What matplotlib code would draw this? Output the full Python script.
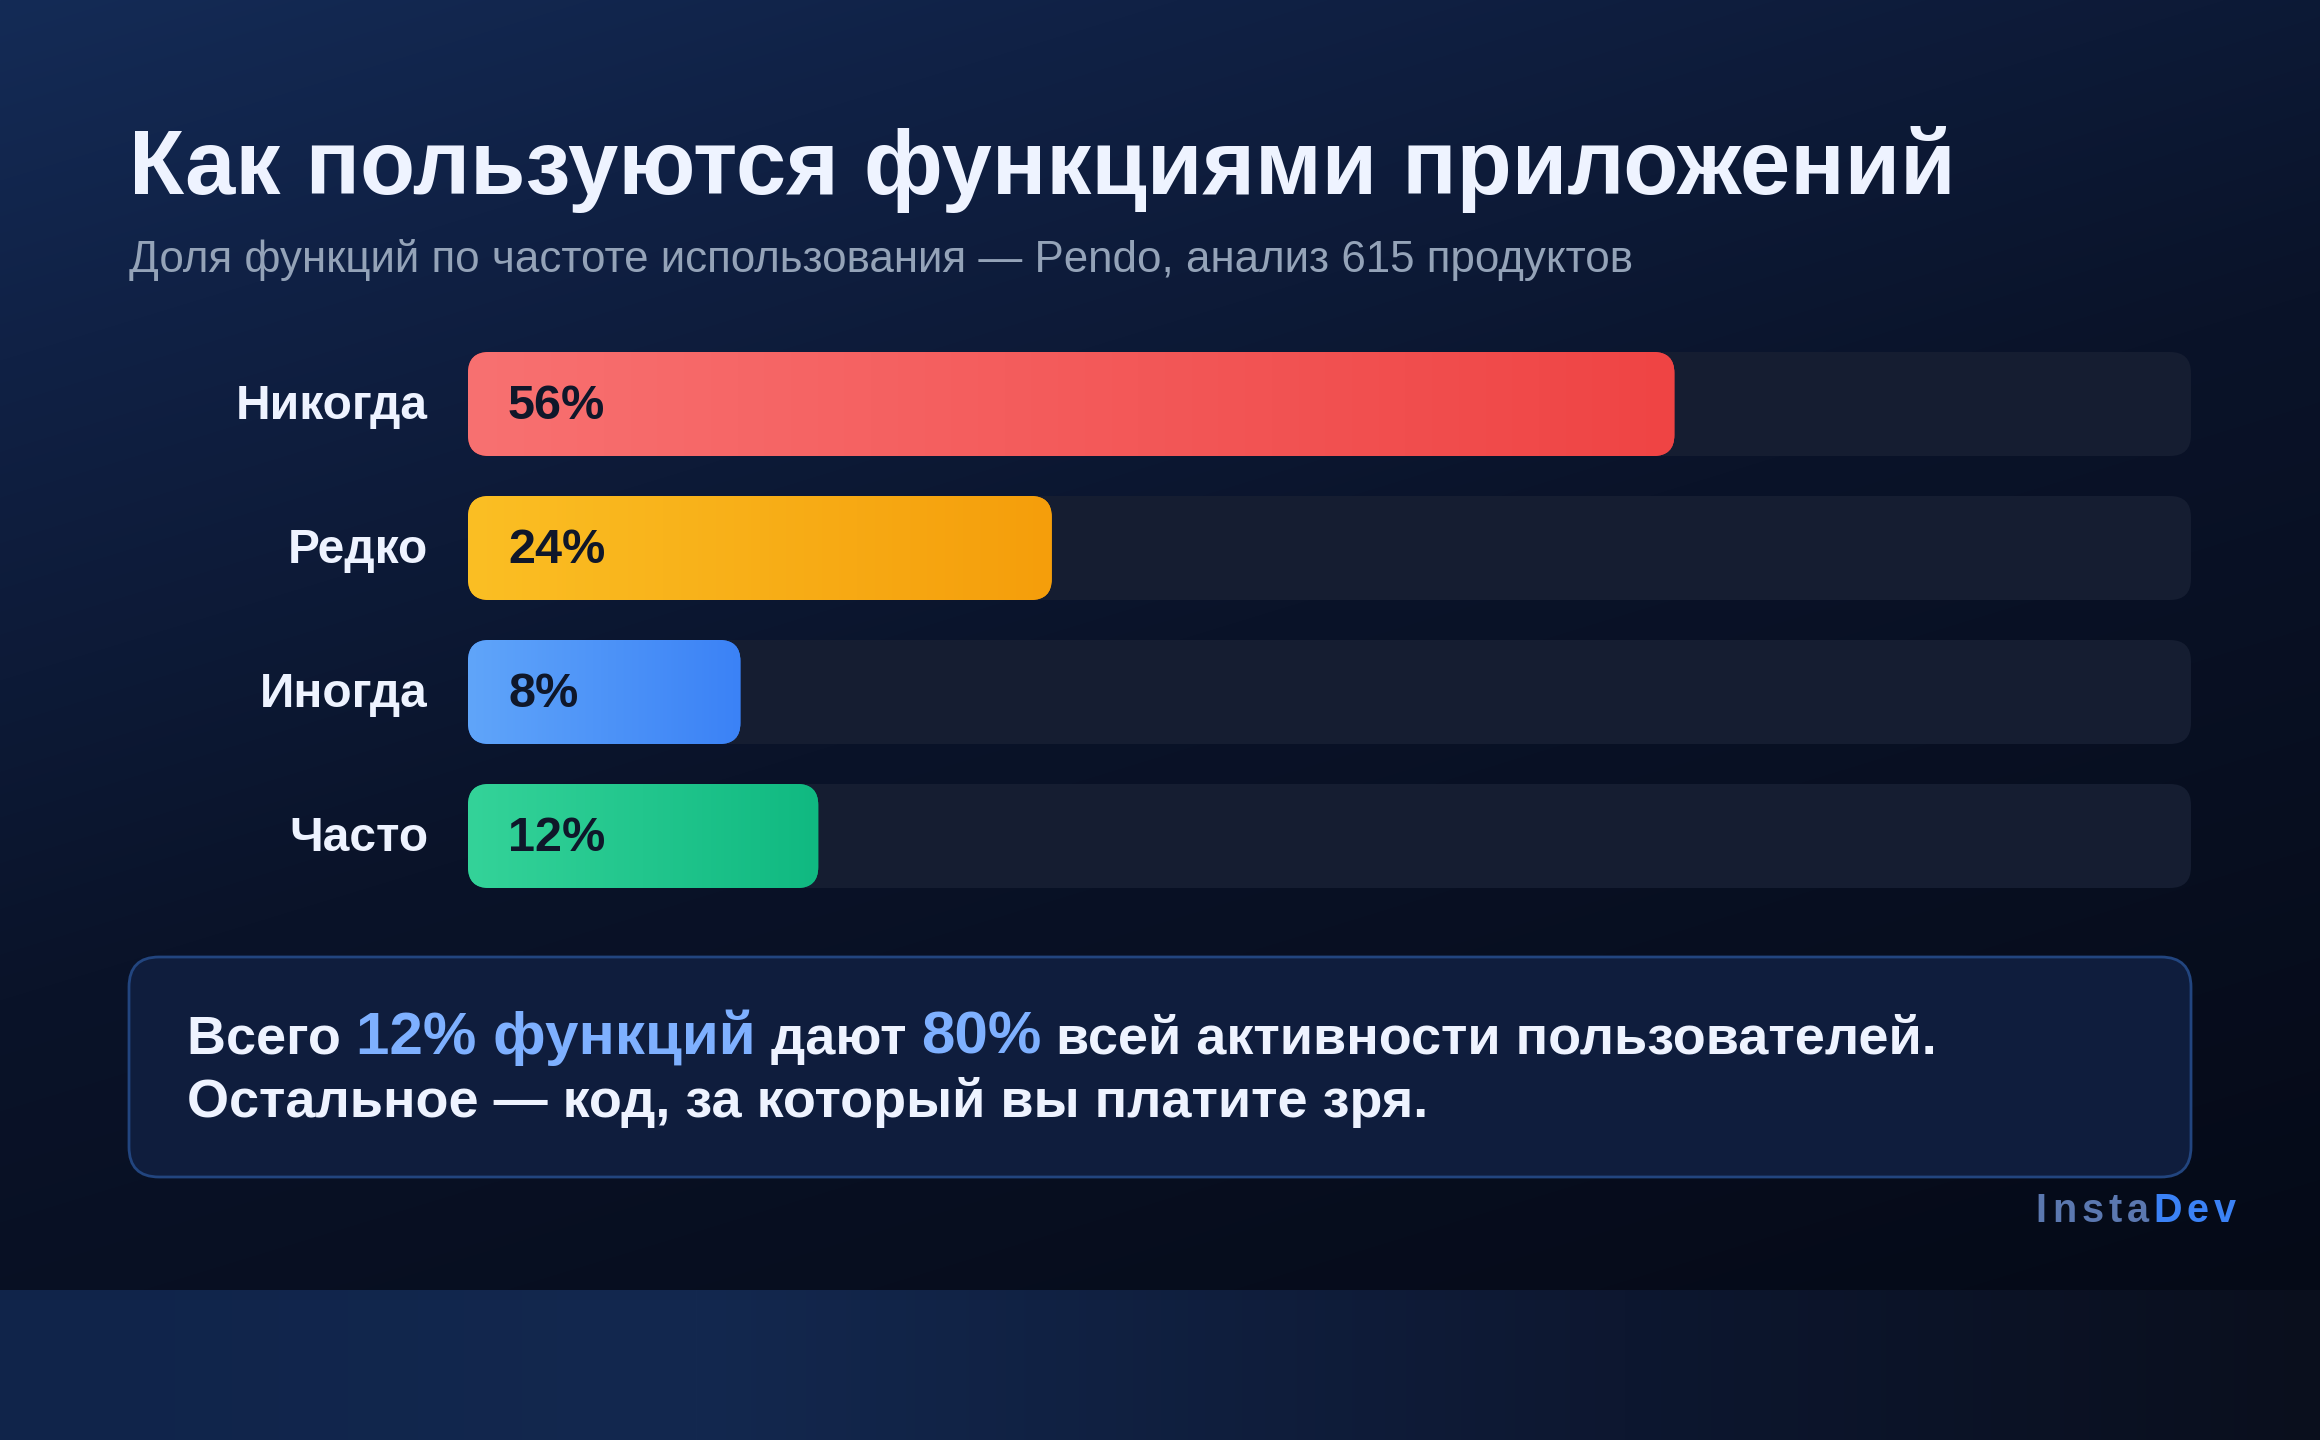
import numpy as np
import matplotlib
matplotlib.use('Agg')
import matplotlib.pyplot as plt
from matplotlib.patches import FancyBboxPatch
from matplotlib.colors import to_rgb
from matplotlib.transforms import offset_copy

# ---------------- data ----------------
categories = ['Никогда', 'Редко', 'Иногда', 'Часто']
values = [56, 24, 8, 12]
value_labels = ['56%', '24%', '8%', '12%']
grad_start = ['#f87171', '#fbbf24', '#60a5fa', '#34d399']
grad_end = ['#ef4444', '#f59e0b', '#3b82f6', '#10b981']

title = 'Как пользуются функциями приложений'
subtitle = 'Доля функций по частоте использования — Pendo, анализ 615 продуктов'
callout_line1 = [('Всего ', False), ('12% функций', True), (' дают ', False),
                 ('80%', True), (' всей активности пользователей.', False)]
callout_line2 = 'Остальное — код, за который вы платите зря.'
brand = [('Insta', '#5b78b0'), ('Dev', '#3b82f6')]

# ---------------- style ----------------
FONT = ['Liberation Sans', 'DejaVu Sans']
plt.rcParams['font.family'] = FONT
W, H = 2320, 1440
DPI = 100
BAR_BASE = 6.0      # minimum bar length (label room) in % units
AXIS_MAX = 82.55
TRACK = '#151d31'
TEXT_LIGHT = '#eef3ff'
VALUE_DARK = '#0f172a'
HILITE = '#7eb0ff'

fig = plt.figure(figsize=(W / DPI, H / DPI), dpi=DPI)

# ---------------- background ----------------
bg = fig.add_axes([0, 0, 1, 1])
bg.set_xlim(0, W)
bg.set_ylim(H, 0)
bg.axis('off')

yy, xx = np.mgrid[0:H, 0:W].astype(float)
img = np.zeros((H, W, 3))
CARD_H = 1290
t = np.clip((0.55 * xx / W + yy / CARD_H) / 1.55, 0, 1)
stops_t = [0.0, 0.18, 0.5, 1.0]
stops_c = [to_rgb('#142b56'), to_rgb('#102145'), to_rgb('#0a1329'), to_rgb('#050a17')]
for ch in range(3):
    img[..., ch] = np.interp(t, stops_t, [c[ch] for c in stops_c])
# bottom band
band = yy >= CARD_H
tb = np.clip(xx / W, 0, 1)
b_t = [0.0, 0.3, 0.7, 1.0]
b_c = [to_rgb('#10244a'), to_rgb('#13284f'), to_rgb('#0d1730'), to_rgb('#0a0f1d')]
for ch in range(3):
    chan = np.interp(tb, b_t, [c[ch] for c in b_c])
    img[..., ch] = np.where(band, chan, img[..., ch])
bg.imshow(img, extent=(0, W, H, 0), aspect='auto', zorder=0)
bg.set_xlim(0, W)
bg.set_ylim(H, 0)

renderer = fig.canvas.get_renderer()


def text_width(s, **kw):
    a = bg.text(0, 0, s + '|', **kw)
    b = bg.text(0, 0, '|', **kw)
    w = a.get_window_extent(renderer).width - b.get_window_extent(renderer).width
    a.remove()
    b.remove()
    return w


# ---------------- title ----------------
bg.text(129, 194, title, fontsize=65, fontweight='bold', color=TEXT_LIGHT,
        ha='left', va='baseline', zorder=5)
bg.text(129, 272, subtitle, fontsize=31.6, color='#94a3b8',
        ha='left', va='baseline', zorder=5)

# ---------------- bars ----------------
ax_l, ax_r, ax_t, ax_b = 468, 2191, 352, 888
ax = fig.add_axes([ax_l / W, (H - ax_b) / H, (ax_r - ax_l) / W, (ax_b - ax_t) / H])
ax.patch.set_alpha(0)
ax.axis('off')
n = len(categories)
bar_h = 104 / 144
ypos = np.arange(n)
ax.set_xlim(-BAR_BASE, AXIS_MAX)
ax.set_ylim(n - 1 + bar_h / 2, -bar_h / 2)

sx = (ax_r - ax_l) / (AXIS_MAX + BAR_BASE)       # px per x unit
sy = (ax_b - ax_t) / (n - 1 + bar_h)             # px per y unit
asp = sx / sy
radius_px = 21
r_x = radius_px / sx

grad = np.linspace(0, 1, 256)
for i, (v, c0, c1) in enumerate(zip(values, grad_start, grad_end)):
    y0 = ypos[i] - bar_h / 2
    track = FancyBboxPatch((-BAR_BASE, y0), AXIS_MAX + BAR_BASE, bar_h,
                           boxstyle=f'round,pad=0,rounding_size={r_x}',
                           mutation_aspect=asp, fc=TRACK, ec='none', zorder=1)
    ax.add_patch(track)
    bar = FancyBboxPatch((-BAR_BASE, y0), v + BAR_BASE, bar_h,
                         boxstyle=f'round,pad=0,rounding_size={r_x}',
                         mutation_aspect=asp, fc=c1, ec='none', zorder=2)
    ax.add_patch(bar)
    a0, a1 = np.array(to_rgb(c0)), np.array(to_rgb(c1))
    gimg = (a0[None, :] * (1 - grad[:, None]) + a1[None, :] * grad[:, None])[None, :, :]
    im = ax.imshow(gimg, extent=(-BAR_BASE, v, y0 + bar_h, y0), aspect='auto',
                   interpolation='bilinear', zorder=3)
    im.set_clip_path(bar)
    tr_val = offset_copy(ax.transData, fig=fig, x=40, y=-15, units='dots')
    ax.text(-BAR_BASE, ypos[i], value_labels[i], transform=tr_val, fontsize=35,
            fontweight='bold', color=VALUE_DARK, ha='left', va='baseline', zorder=4)
    tr_lab = offset_copy(ax.transData, fig=fig, x=-40, y=-15, units='dots')
    ax.text(-BAR_BASE, ypos[i], categories[i], transform=tr_lab, fontsize=34.5,
            fontweight='bold', color=TEXT_LIGHT, ha='right', va='baseline', zorder=4)
ax.set_xlim(-BAR_BASE, AXIS_MAX)
ax.set_ylim(n - 1 + bar_h / 2, -bar_h / 2)

# ---------------- callout ----------------
box = FancyBboxPatch((129, 957), 2062, 220, boxstyle='round,pad=0,rounding_size=30',
                     fc='#0f1d3d', ec='#22457f', lw=2, zorder=2)
bg.add_patch(box)
ckw = dict(fontsize=38.9, fontweight='bold')
hkw = dict(fontsize=43.3, fontweight='bold')
x = 187
for seg, hi in callout_line1:
    kw = hkw if hi else ckw
    bg.text(x, 1054, seg, color=HILITE if hi else TEXT_LIGHT, ha='left',
            va='baseline', zorder=5, **kw)
    x += text_width(seg, **kw)
bg.text(187, 1117, callout_line2, color=TEXT_LIGHT, ha='left', va='baseline',
        zorder=5, **ckw)

# ---------------- brand ----------------
bkw = dict(fontsize=28.5, fontweight='bold')
spacing = 5
chars = [(ch, col) for word, col in brand for ch in word]
total = sum(text_width(ch, **bkw) for ch, _ in chars) + spacing * (len(chars) - 1)
x = 2236 - total
for ch, col in chars:
    bg.text(x, 1222, ch, color=col, ha='left', va='baseline', zorder=5, **bkw)
    x += text_width(ch, **bkw) + spacing

fig.savefig('out.png', dpi=DPI)
